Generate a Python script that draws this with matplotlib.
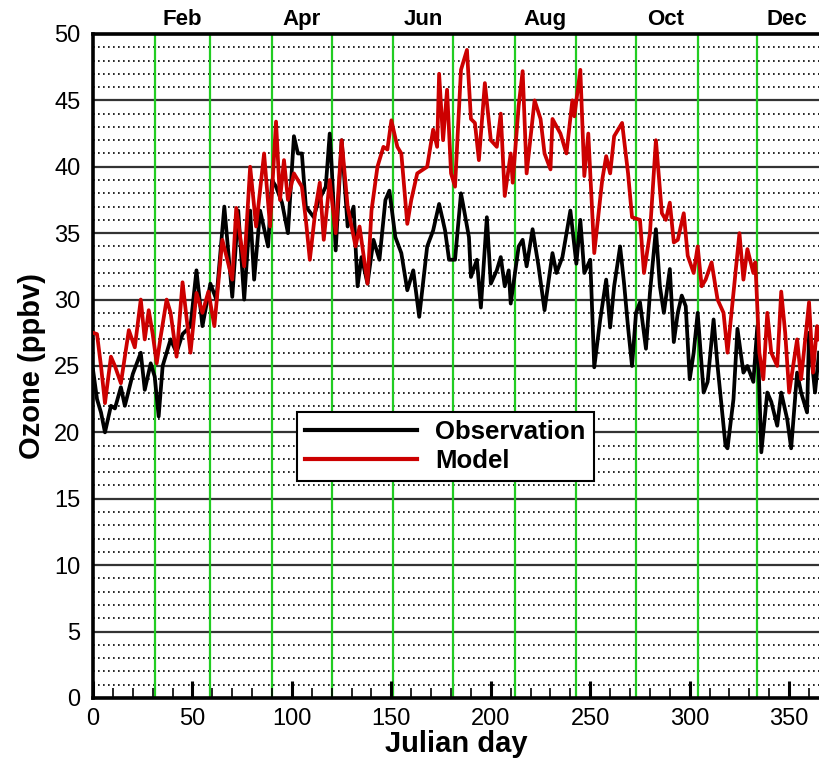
import numpy as np
import matplotlib.pyplot as plt

plt.rcParams['font.family'] = ['Liberation Sans', 'DejaVu Sans']

obs_day = [0, 2, 4, 6, 9, 11, 14, 16, 20, 24, 26, 29, 31, 33, 35, 39, 42, 45, 49, 52,
           55, 59, 62, 66, 70, 73, 76, 79, 81, 84, 88, 90, 92, 95, 98, 101, 103, 105, 107, 111,
           113, 117, 119, 120, 122, 125, 128, 131, 133, 135, 138, 141, 144, 147, 149, 152, 155, 158, 161, 164,
           168, 171, 174, 177, 179, 182, 185, 186, 189, 190, 193, 195, 198, 200, 203, 205, 207, 209, 210, 214,
           216, 218, 221, 224, 227, 231, 233, 236, 240, 243, 245, 247, 250, 252, 255, 258, 260, 262, 265, 267,
           269, 271, 273, 275, 278, 280, 283, 285, 287, 290, 292, 294, 296, 298, 300, 302, 304, 307, 309, 312,
           314, 318, 319, 322, 324, 327, 329, 332, 334, 336, 339, 341, 344, 346, 349, 351, 354, 356, 359, 360,
           363, 365]
obs_val = [24.7, 22.5, 21.5, 20.0, 22.0, 21.8, 23.4, 22.0, 24.4, 26.0, 23.2, 25.2, 24.2, 21.2, 25.0, 27.0, 26.0, 27.4, 28.0, 32.2,
           28.0, 31.2, 30.0, 37.0, 30.2, 36.7, 30.0, 36.7, 31.5, 36.7, 34.0, 39.0, 38.5, 37.3, 35.0, 42.3, 41.0, 41.0, 37.0, 36.2,
           37.3, 38.5, 42.5, 40.0, 33.7, 42.0, 35.5, 37.0, 31.0, 33.2, 31.2, 34.5, 33.0, 37.5, 38.2, 34.7, 33.5, 30.7, 32.2, 28.7,
           34.0, 35.2, 37.2, 35.2, 33.0, 33.0, 38.0, 37.2, 34.7, 31.7, 33.0, 29.4, 36.2, 31.2, 32.2, 33.2, 31.0, 32.2, 29.7, 34.0,
           34.5, 32.5, 35.3, 32.5, 29.2, 33.5, 32.0, 33.2, 36.7, 32.7, 36.0, 32.0, 33.0, 24.9, 28.5, 31.5, 27.9, 31.0, 34.0, 31.2,
           27.9, 25.0, 29.0, 29.8, 26.3, 30.5, 35.3, 31.0, 29.0, 32.3, 26.8, 29.0, 30.3, 29.5, 24.0, 26.0, 29.0, 23.0, 23.8, 28.5,
           25.0, 19.0, 18.8, 22.5, 27.8, 24.5, 25.0, 23.8, 28.0, 18.5, 23.0, 22.3, 20.5, 23.0, 21.0, 18.8, 24.5, 23.0, 21.5, 27.5,
           23.0, 26.0]

# Modelled ozone (ppbv)
mod_day = [0, 2, 4, 6, 9, 11, 14, 18, 21, 24, 26, 28, 30, 32, 34, 37, 39, 42, 45, 49,
           52, 55, 58, 61, 65, 70, 72, 76, 79, 82, 86, 89, 91, 92, 94, 96, 98, 101, 105, 107,
           109, 112, 114, 116, 119, 122, 125, 128, 132, 134, 138, 140, 143, 146, 148, 150, 153, 155, 158, 160,
           163, 168, 171, 173, 174, 176, 178, 180, 182, 185, 188, 190, 192, 194, 197, 200, 203, 205, 207, 210,
           211, 214, 216, 218, 222, 225, 227, 230, 231, 235, 238, 241, 242, 245, 247, 249, 252, 256, 258, 260,
           262, 266, 269, 271, 275, 277, 280, 283, 286, 288, 290, 292, 294, 297, 299, 302, 304, 306, 308, 311,
           314, 317, 319, 322, 325, 327, 329, 332, 333, 335, 337, 339, 341, 344, 346, 348, 350, 354, 356, 360,
           362, 364, 365]
mod_val = [27.5, 27.4, 25.0, 22.2, 25.7, 25.0, 23.7, 27.7, 26.4, 30.0, 27.0, 29.2, 27.4, 25.2, 27.2, 30.0, 29.0, 25.7, 31.3, 26.0,
           30.5, 29.0, 30.6, 28.0, 34.5, 31.5, 36.9, 32.5, 40.0, 35.5, 41.0, 35.5, 40.8, 43.4, 37.5, 40.5, 37.5, 39.5, 38.5, 36.0,
           33.0, 37.0, 38.8, 34.5, 39.0, 35.0, 42.0, 37.0, 34.0, 35.5, 31.2, 36.7, 40.0, 41.5, 41.3, 43.5, 41.5, 41.0, 35.7, 37.5,
           39.5, 40.0, 42.8, 41.5, 47.0, 42.0, 45.8, 39.5, 38.5, 47.3, 48.8, 43.6, 43.3, 40.5, 46.3, 42.0, 41.5, 44.0, 37.8, 41.0,
           38.8, 44.6, 47.2, 39.5, 45.0, 43.6, 41.0, 39.8, 43.6, 42.5, 41.0, 45.0, 43.8, 47.3, 39.3, 42.5, 33.5, 39.0, 40.8, 39.5,
           42.3, 43.3, 39.5, 36.2, 36.0, 32.0, 35.0, 42.0, 36.5, 36.0, 37.3, 34.3, 34.5, 36.5, 33.3, 32.0, 34.0, 31.0, 31.5, 32.8,
           30.0, 29.0, 26.0, 30.5, 35.0, 31.5, 33.8, 32.0, 32.8, 26.0, 24.0, 29.0, 26.0, 25.0, 30.6, 27.5, 23.0, 27.0, 24.0, 29.8,
           24.5, 28.0, 27.0]

month_starts = [31, 59, 90, 120, 151, 181, 212, 243, 273, 304, 334]
month_mid = [45, 105, 166, 227, 288, 349]
month_names = ['Feb', 'Apr', 'Jun', 'Aug', 'Oct', 'Dec']

fig = plt.figure(figsize=(8.19, 7.58), dpi=100)
ax = fig.add_axes([0.1136, 0.0792, 0.8864, 0.876])

# grid: dotted every 1 ppbv, solid every 5, green month boundaries
for y in range(1, 50):
    if y % 5 == 0:
        ax.axhline(y, color='#333333', lw=1.6, zorder=1)
    else:
        ax.axhline(y, color='black', lw=1.2, ls=(0, (1, 2)), zorder=1)
for d in month_starts:
    ax.axvline(d, color='#22cc22', lw=1.6, zorder=1.5)

ax.plot(obs_day, obs_val, color='black', lw=2.7, label='Observation', zorder=3)
ax.plot(mod_day, mod_val, color='#cc0000', lw=2.7, label='Model', zorder=3)

ax.set_xlim(0, 365)
ax.set_ylim(0, 50)
ax.set_xticks(np.arange(0, 366, 50))
ax.set_xticks(np.arange(0, 366, 10), minor=True)
ax.set_yticks(np.arange(0, 51, 5))
ax.tick_params(axis='x', which='major', direction='in', length=12, width=2.2, labelsize=17, pad=7)
ax.tick_params(axis='x', which='minor', direction='in', length=7, width=1.2)
ax.tick_params(axis='y', length=0, labelsize=17, pad=9)

for side in ['left', 'top', 'bottom']:
    ax.spines[side].set_linewidth(2.6)
ax.spines['right'].set_visible(False)

top = ax.secondary_xaxis('top')
top.set_xticks(month_mid)
top.set_xticklabels(month_names, fontweight='bold', fontsize=16)
top.tick_params(length=0, pad=3)

ax.set_xlabel('Julian day', fontsize=21, fontweight='bold', labelpad=0)
ax.set_ylabel('Ozone (ppbv)', fontsize=21, fontweight='bold', labelpad=6)

leg = ax.legend(loc='upper left', bbox_to_anchor=(0.281, 0.431), borderaxespad=0,
                prop={'weight': 'bold', 'size': 18.5}, handlelength=4.35, handletextpad=0.7,
                labelspacing=0.2, borderpad=0.32,
                fancybox=False, framealpha=1, edgecolor='black')
leg.get_frame().set_linewidth(1.5)
for line in leg.get_lines():
    line.set_linewidth(3)

fig.savefig('out.png', dpi=100)
